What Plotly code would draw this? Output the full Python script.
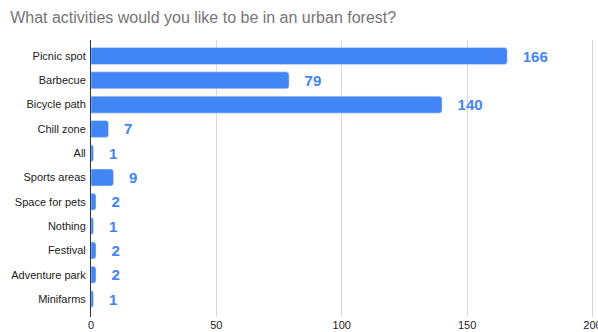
import plotly.graph_objects as go

categories = ["Picnic spot", "Barbecue", "Bicycle path", "Chill zone", "All", "Sports areas",
              "Space for pets", "Nothing", "Festival", "Adventure park", "Minifarms"]
values = [166, 79, 140, 7, 1, 9, 2, 1, 2, 2, 1]
tick_vals = [0, 50, 100, 150, 200]

fig = go.Figure(go.Bar(
    y=categories, x=values, orientation="h",
    marker=dict(color="#4285F4", cornerradius=3),
    text=["   " + str(v) for v in values], textposition="outside",
    textfont=dict(family="Liberation Sans, Arial, sans-serif", size=15, color="#4285F4", weight="bold"),
    cliponaxis=False,
))
fig.update_layout(
    width=598, height=332,
    paper_bgcolor="white", plot_bgcolor="white",
    margin=dict(l=91, r=3, t=40, b=15, autoexpand=False),
    bargap=0.3,
    showlegend=False,
    title=dict(text="What activities would you like to be in an urban forest?",
               x=0.017, xanchor="left", y=0.949, yanchor="middle",
               font=dict(family="Liberation Sans, Arial, sans-serif", size=16, color="#757575")),
    font=dict(family="Liberation Sans, Arial, sans-serif", size=11, color="#222222"),
)
fig.update_xaxes(range=[0, 201], tickvals=tick_vals, showgrid=True, gridcolor="#d9d9d9",
                 zeroline=False, showline=False, ticks="", automargin=False,
                 ticklabeloverflow="allow",
                 tickfont=dict(size=11, color="#222222"))
fig.update_yaxes(range=[10.74, -0.66], showline=True, linecolor="#333333", linewidth=1,
                 ticks="", ticklabelstandoff=2, automargin=False,
                 tickfont=dict(size=11, color="#222222"))
fig.write_html("out.html", config={"displayModeBar": False},
               post_script="document.body.style.margin='0';document.body.style.overflow='hidden';")
